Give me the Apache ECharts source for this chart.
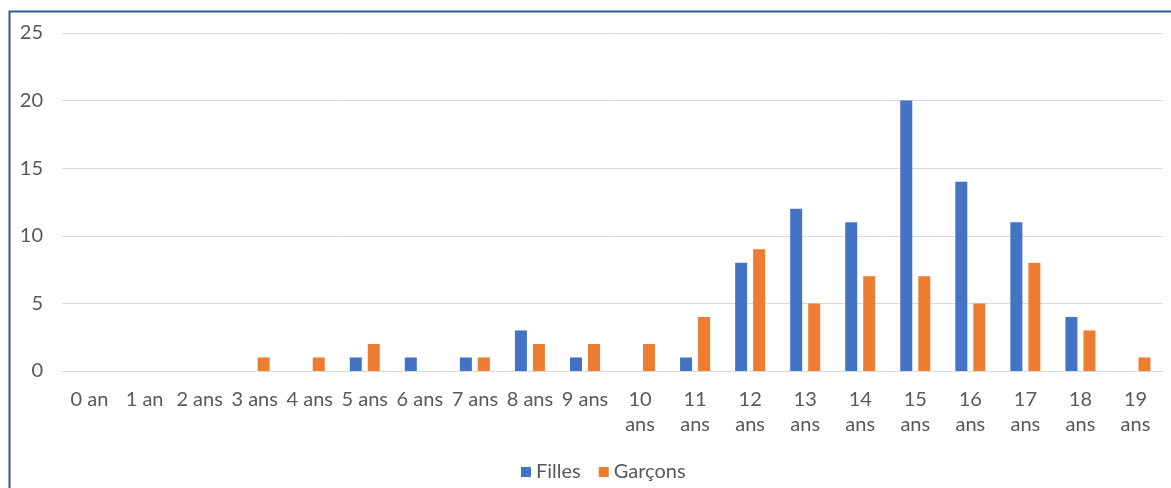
<!DOCTYPE html>
<html>
<head>
<meta charset="utf-8">
<script src="https://cdn.jsdelivr.net/npm/echarts@6/dist/echarts.min.js"></script>
<style>
  html, body { margin: 0; padding: 0; background: #fff; }
  #chart { width: 1171px; height: 488px; }
</style>
</head>
<body>
<div id="chart"></div>
<script>
// Répartition par âge et par sexe
const ages = ['0 an', '1 an', '2 ans', '3 ans', '4 ans', '5 ans', '6 ans', '7 ans', '8 ans', '9 ans',
  '10 ans', '11 ans', '12 ans', '13 ans', '14 ans', '15 ans', '16 ans', '17 ans', '18 ans', '19 ans'];
const filles  = [0, 0, 0, 0, 0, 1, 1, 1, 3, 1, 0, 1, 8, 12, 11, 20, 14, 11, 4, 0];
const garcons = [0, 0, 0, 1, 1, 2, 0, 1, 2, 2, 2, 4, 9, 5, 7, 7, 5, 8, 3, 1];
const yTicks = { min: 0, max: 25, interval: 5 };

const textColor = '#595959';
const font = 'Lato, "Open Sans", sans-serif';

const chart = echarts.init(document.getElementById('chart'), null, { renderer: 'canvas' });
chart.setOption({
  backgroundColor: '#ffffff',
  animation: false,
  textStyle: { fontFamily: font },
  graphic: [{
    type: 'rect',
    shape: { x: 9.5, y: 11.5, width: 1300, height: 600 },
    style: { fill: null, stroke: '#2e5a8c', lineWidth: 2 },
    silent: true
  }],
  grid: { left: 62, right: 8, top: 33, bottom: 117 },
  legend: {
    bottom: 1,
    left: 516,
    itemWidth: 10,
    itemHeight: 10,
    itemGap: 18,
    icon: 'rect',
    textStyle: { color: textColor, fontSize: 20, fontFamily: font },
    data: ['Filles', 'Garçons']
  },
  xAxis: {
    type: 'category',
    data: ages,
    axisLine: { lineStyle: { color: '#d9d9d9' } },
    axisTick: { show: false },
    axisLabel: {
      color: textColor,
      fontSize: 20,
      fontFamily: font,
      margin: 16,
      lineHeight: 25,
      interval: 0,
      formatter: function (v) {
        return parseInt(v, 10) >= 10 ? v.replace(' ', '\n') : v;
      }
    }
  },
  yAxis: {
    type: 'value',
    min: yTicks.min,
    max: yTicks.max,
    interval: yTicks.interval,
    axisLine: { show: false },
    axisTick: { show: false },
    splitLine: { lineStyle: { color: '#d9d9d9' } },
    axisLabel: { color: textColor, fontSize: 20, fontFamily: font, margin: 19 }
  },
  series: [
    {
      name: 'Filles',
      type: 'bar',
      data: filles,
      barWidth: 12,
      barGap: '50%',
      itemStyle: { color: '#4472c4' }
    },
    {
      name: 'Garçons',
      type: 'bar',
      data: garcons,
      barWidth: 12,
      itemStyle: { color: '#ed7d31' }
    }
  ]
});
</script>
</body>
</html>
